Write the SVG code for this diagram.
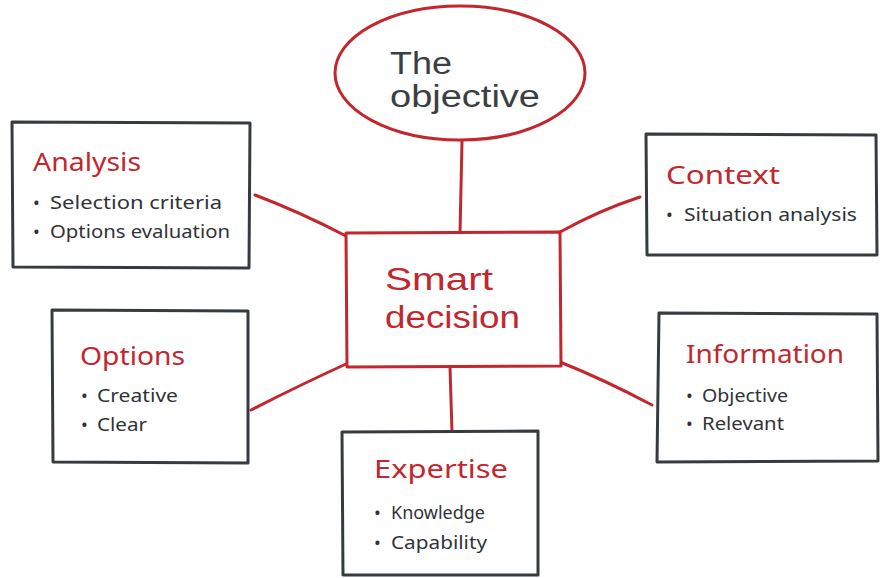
<svg xmlns="http://www.w3.org/2000/svg" width="883" height="578" viewBox="0 0 883 578">
<style>
.box{fill:#fff;stroke:#363b40;stroke-width:3;stroke-linejoin:round}
.rbox{fill:#fff;stroke:#c1272d;stroke-width:3;stroke-linejoin:round}
.conn{fill:none;stroke:#c1272d;stroke-width:3;stroke-linecap:round}
.title{font-family:"Noto Sans","DejaVu Sans",sans-serif;fill:#c1272d;font-size:26px}
.item{font-family:"Noto Sans","DejaVu Sans",sans-serif;fill:#2f3338;font-size:18px}
.big{font-family:"Liberation Sans","Noto Sans",sans-serif;font-size:31px}
</style>
<rect width="883" height="578" fill="#fff"/>
<g id="connectors">
<path class="conn" d="M462 141 L460 233"/>
<path class="conn" d="M255 195 Q300 212 346 236"/>
<path class="conn" d="M560 232 Q600 210 640 197"/>
<path class="conn" d="M251 410 Q300 385 346 364"/>
<path class="conn" d="M560 362 Q605 380 652 405"/>
<path class="conn" d="M450 367 L452 432"/>
</g>
<g id="objective">
<ellipse cx="460" cy="73" rx="125" ry="67" fill="#fff" stroke="#c1272d" stroke-width="3"/>
<text class="big" x="390" y="74" fill="#3a3f44" font-size="26" textLength="62" lengthAdjust="spacingAndGlyphs">The</text>
<text class="big" x="390" y="107" fill="#3a3f44" font-size="26" textLength="150" lengthAdjust="spacingAndGlyphs">objective</text>
</g>
<g id="analysis">
<path class="box" d="M12 122 L250 123 L249 268 L13 267 Z"/>
<text class="title" x="33" y="171" textLength="108" lengthAdjust="spacingAndGlyphs">Analysis</text>
<text class="item" x="33" y="209">•</text>
<text class="item" x="50" y="209" textLength="172" lengthAdjust="spacingAndGlyphs">Selection criteria</text>
<text class="item" x="33" y="238">•</text>
<text class="item" x="50" y="238" textLength="180" lengthAdjust="spacingAndGlyphs">Options evaluation</text>
</g>
<g id="context">
<path class="box" d="M646 134 L876 135 L877 255 L647 255 Z"/>
<text class="title" x="666" y="184" textLength="114" lengthAdjust="spacingAndGlyphs">Context</text>
<text class="item" x="666" y="221">•</text>
<text class="item" x="684" y="221" textLength="173" lengthAdjust="spacingAndGlyphs">Situation analysis</text>
</g>
<g id="smart">
<path class="rbox" d="M346 233 L560 232 L561 366 L347 367 Z"/>
<text class="big" x="385" y="290" fill="#c1272d" textLength="108" lengthAdjust="spacingAndGlyphs">Smart</text>
<text class="big" x="385" y="328" fill="#c1272d" textLength="135" lengthAdjust="spacingAndGlyphs">decision</text>
</g>
<g id="options">
<path class="box" d="M52 310 L248 311 L248 463 L53 462 Z"/>
<text class="title" x="80" y="365" textLength="105" lengthAdjust="spacingAndGlyphs">Options</text>
<text class="item" x="81" y="402">•</text>
<text class="item" x="97" y="402" textLength="81" lengthAdjust="spacingAndGlyphs">Creative</text>
<text class="item" x="81" y="431">•</text>
<text class="item" x="97" y="431" textLength="50" lengthAdjust="spacingAndGlyphs">Clear</text>
</g>
<g id="information">
<path class="box" d="M659 313 L877 314 L878 461 L657 462 Z"/>
<text class="title" x="686" y="363" textLength="158" lengthAdjust="spacingAndGlyphs">Information</text>
<text class="item" x="686" y="402">•</text>
<text class="item" x="702" y="402" textLength="86" lengthAdjust="spacingAndGlyphs">Objective</text>
<text class="item" x="686" y="430">•</text>
<text class="item" x="702" y="430" textLength="82" lengthAdjust="spacingAndGlyphs">Relevant</text>
</g>
<g id="expertise">
<path class="box" d="M342 432 L538 431 L538 575 L343 575 Z"/>
<text class="title" x="374" y="478" textLength="134" lengthAdjust="spacingAndGlyphs">Expertise</text>
<text class="item" x="374" y="519">•</text>
<text class="item" x="391" y="519" textLength="94" lengthAdjust="spacingAndGlyphs">Knowledge</text>
<text class="item" x="374" y="549">•</text>
<text class="item" x="391" y="549" textLength="96" lengthAdjust="spacingAndGlyphs">Capability</text>
</g>
</svg>
